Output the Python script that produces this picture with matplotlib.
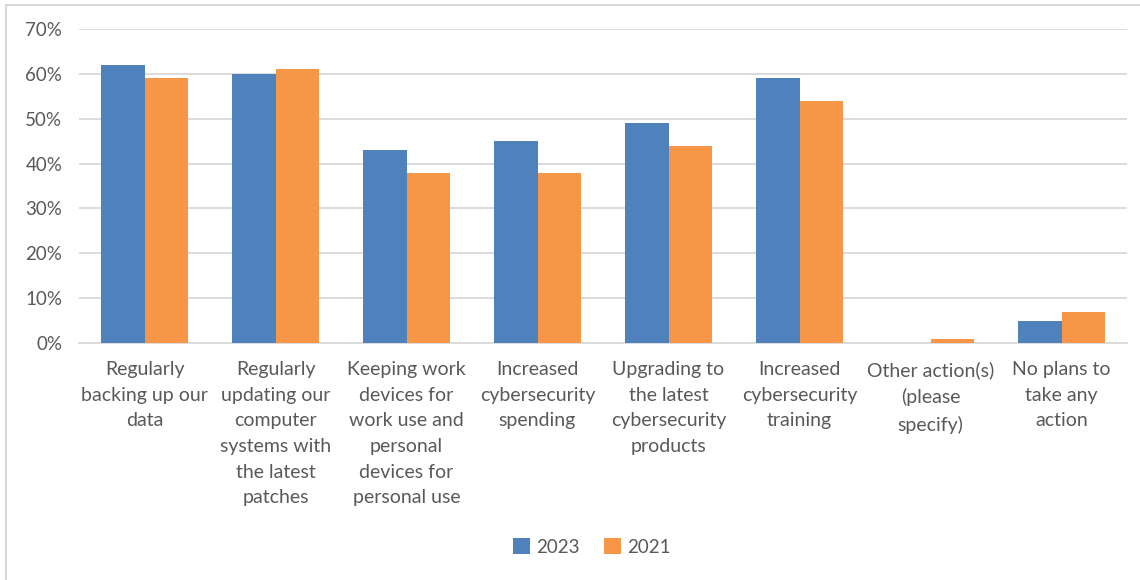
import matplotlib.pyplot as plt
import numpy as np
from matplotlib.patches import Rectangle
from matplotlib.ticker import PercentFormatter

plt.rcParams['font.family'] = ['Lato', 'DejaVu Sans']

categories = [
    'Regularly\nbacking up our\ndata',
    'Regularly\nupdating our\ncomputer\nsystems with\nthe latest\npatches',
    'Keeping work\ndevices for\nwork use and\npersonal\ndevices for\npersonal use',
    'Increased\ncybersecurity\nspending',
    'Upgrading to\nthe latest\ncybersecurity\nproducts',
    'Increased\ncybersecurity\ntraining',
    'Other action(s)\n(please\nspecify)',
    'No plans to\ntake any\naction',
]
vals_2023 = [62, 60, 43, 45, 49, 59, 0, 5]
vals_2021 = [59, 61, 38, 38, 44, 54, 1, 7]

BLUE = '#4f81bd'
ORANGE = '#f79646'
TEXT = '#595959'
GRID = '#d9d9d9'

fig = plt.figure(figsize=(11.4, 5.8), dpi=100)
ax = fig.add_axes([0.0693, 0.4086, 0.9193, 0.5414])

# outer chart border (only top/left fall inside the image)
fig.patches.append(Rectangle((6 / 1140, -0.1), 1.2, 1 - 5 / 580 + 0.1,
                             transform=fig.transFigure, fill=False,
                             edgecolor=GRID, linewidth=1.5))

x = np.arange(len(categories))
w = 0.333
ax.bar(x - w / 2, vals_2023, w, color=BLUE, label='2023', zorder=3)
ax.bar(x + w / 2, vals_2021, w, color=ORANGE, label='2021', zorder=3)

ax.set_xlim(-0.5, len(categories) - 0.5)
ax.set_ylim(0, 70)
ax.set_yticks(range(0, 71, 10))
ax.yaxis.set_major_formatter(PercentFormatter(decimals=0))
ax.grid(axis='y', color=GRID, linewidth=1.3, zorder=0)
for s in ['top', 'right', 'left']:
    ax.spines[s].set_visible(False)
ax.spines['bottom'].set_color(GRID)
ax.spines['bottom'].set_linewidth(1.3)

ax.set_xticks(x)
ax.set_xticklabels(categories, fontsize=14, color=TEXT, linespacing=1.62)
ax.tick_params(axis='x', length=0, pad=13)
ax.tick_params(axis='y', length=0, pad=12, labelsize=13.5, labelcolor=TEXT)

ax.legend(loc='center', bbox_to_anchor=(592 / 1140, 33 / 580),
          bbox_transform=fig.transFigure, ncol=2, frameon=False,
          fontsize=13.5, labelcolor=TEXT, handlelength=0.9, handleheight=0.9,
          handletextpad=0.35, columnspacing=1.3)

fig.savefig('out.png', dpi=100)
